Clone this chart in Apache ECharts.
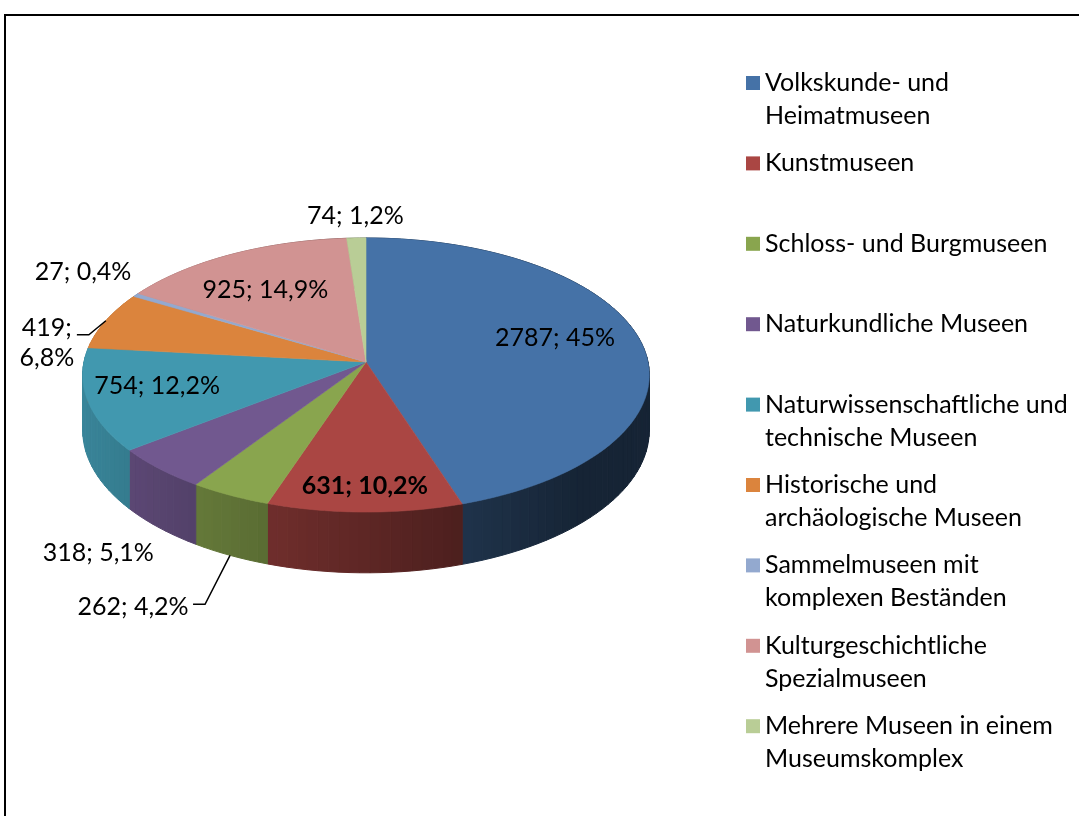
<!DOCTYPE html>
<html>
<head>
<meta charset="utf-8">
<script src="https://cdn.jsdelivr.net/npm/echarts@6/dist/echarts.min.js"></script>
<style>
html,body{margin:0;padding:0;background:#fff}
#chart{width:1079px;height:816px}
</style>
</head>
<body>
<div id="chart"></div>
<script>
// data
var categories=['Volkskunde- und\nHeimatmuseen','Kunstmuseen','Schloss- und Burgmuseen','Naturkundliche Museen',
    'Naturwissenschaftliche und\ntechnische Museen','Historische und\narchäologische Museen',
    'Sammelmuseen mit\nkomplexen Beständen','Kulturgeschichtliche\nSpezialmuseen','Mehrere Museen in einem\nMuseumskomplex'];
var counts=[2787,631,262,318,754,419,27,925,74];
var percents=[45,10.2,4.2,5.1,12.2,6.8,0.4,14.9,1.2];

var colors=['#4572A7','#AA4643','#89A54E','#71588F','#4198AF','#DB843D','#93A9CF','#D19392','#B9CD96'];
var FONT='Lato';
var FS=25;

// pie geometry (tilted disk with a little perspective)
var CX=366,CY=362,A=282,B=135.8,K=0.0949,H=55;
var total=counts.reduce(function(s,v){return s+v},0);
var starts=[];
(function(){var acc=0;for(var i=0;i<counts.length;i++){starts.push(acc/total*Math.PI*2);acc+=counts[i];}})();

function proj(t,r){
    var u=Math.sin(t)*r,v=-Math.cos(t)*r;
    var w=1/(1-K*v);
    return [CX+A*u*w,CY+B*v*w,w];
}
function shade(hex,f){
    var n=parseInt(hex.slice(1),16);
    var r=Math.round(((n>>16)&255)*f),g=Math.round(((n>>8)&255)*f),b=Math.round((n&255)*f);
    return 'rgb('+r+','+g+','+b+')';
}
function sliceAngles(i,api){
    var a0=starts[i];
    return [a0,a0+api.value(0)/total*Math.PI*2];
}

// label placing: inside (r = fraction of radius) or outside (offset from the rim)
var labelCfg=[
    {r:0.686,dy:-10},
    {r:0.84,dy:0,bold:true},
    {out:'bottom',dx:-97,dy:52,line:[[-25,49],[-37,49]]},
    {out:'bottom',dx:-61,dy:25},
    {r:0.755,dy:-5},
    {out:'top',dx:-59,dy:22,wrap:true,line:[[-17,14],[-29,14]]},
    {out:'top',dx:-53,dy:-23},
    {r:0.73,dy:8},
    {out:'top',dx:-1,dy:-22}
];

function renderSide(params,api){
    var i=params.dataIndex;
    var a=sliceAngles(i,api);
    var n=Math.max(2,Math.ceil((a[1]-a[0])/(Math.PI/90)));
    var kids=[];
    for(var j=0;j<n;j++){
        var t0=a[0]+(a[1]-a[0])*j/n,t1=a[0]+(a[1]-a[0])*(j+1)/n;
        var p0=proj(t0,1),p1=proj(t1,1);
        var um=Math.sin((t0+t1)/2);
        var f=Math.min(0.88,Math.max(0.32,0.55-0.33*um));
        var c=shade(colors[i],f);
        kids.push({type:'polygon',shape:{points:[[p0[0],p0[1]],[p1[0],p1[1]],[p1[0],p1[1]+H*p1[2]],[p0[0],p0[1]+H*p0[2]]]},
            style:{fill:c,stroke:c,lineWidth:1}});
    }
    return {type:'group',children:kids};
}

function renderTop(params,api){
    var i=params.dataIndex;
    var a=sliceAngles(i,api);
    var n=Math.max(2,Math.ceil((a[1]-a[0])/(Math.PI/180)));
    var pts=[[CX,CY]];
    for(var j=0;j<=n;j++){
        var p=proj(a[0]+(a[1]-a[0])*j/n,1);
        pts.push([p[0],p[1]]);
    }
    return {type:'polygon',shape:{points:pts},style:{fill:colors[i],stroke:colors[i],lineWidth:0.6}};
}

function renderLabel(params,api){
    var i=params.dataIndex;
    var a=sliceAngles(i,api);
    var mid=(a[0]+a[1])/2;
    var cfg=labelCfg[i];
    var pct=String(percents[i]).replace('.',',');
    var txt=api.value(0)+';'+(cfg.wrap?'\n':' ')+pct+'%';
    var x,y,kids=[];
    if(cfg.out){
        var p=proj(mid,1);
        var ax=p[0],ay=p[1]+(cfg.out=='bottom'?H*p[2]:0);
        x=ax+cfg.dx;y=ay+cfg.dy;
        if(cfg.line){
            var pts=[[ax,ay]];
            cfg.line.forEach(function(d){pts.push([ax+d[0],ay+d[1]])});
            kids.push({type:'polyline',shape:{points:pts},style:{stroke:'#000',lineWidth:1.5,fill:null}});
        }
    }else{
        var q=proj(mid,cfg.r);
        x=q[0];y=q[1]+cfg.dy;
    }
    kids.push({type:'text',x:x,y:y,style:{text:txt,fill:'#000',font:(cfg.bold?'bold ':'')+FS+'px '+FONT,
        align:'center',verticalAlign:'middle',lineHeight:30}});
    return {type:'group',children:kids};
}

var series=[
    {type:'custom',name:'sides',coordinateSystem:'none',z:1,data:counts,renderItem:renderSide,silent:true},
    {type:'custom',name:'tops',coordinateSystem:'none',z:2,data:counts,renderItem:renderTop,silent:true},
    {type:'custom',name:'labels',coordinateSystem:'none',z:3,data:counts,renderItem:renderLabel,silent:true}
];
var legends=[];
categories.forEach(function(c,i){
    series.push({type:'custom',name:c,coordinateSystem:'none',data:[],renderItem:function(){return null},itemStyle:{color:colors[i]}});
    var two=c.indexOf('\n')>=0;
    var cy=83+80.4*i;
    legends.push({
        data:[c],left:746,top:two?cy-49.5:cy-16.5,padding:0,
        itemWidth:14,itemHeight:14,icon:'rect',selectedMode:false,
        // empty first line keeps the square level with the first text line
        formatter:function(n){return n.indexOf('\n')>=0?'\n'+n:n},
        textStyle:{fontFamily:FONT,fontSize:FS,color:'#000',lineHeight:33}
    });
});

var chart=echarts.init(document.getElementById('chart'));
chart.setOption({
    backgroundColor:'#fff',
    animation:false,
    legend:legends,
    graphic:[{type:'rect',shape:{x:5,y:15,width:1200,height:1000},style:{fill:null,stroke:'#000',lineWidth:2},silent:true}],
    series:series
});
</script>
</body>
</html>
